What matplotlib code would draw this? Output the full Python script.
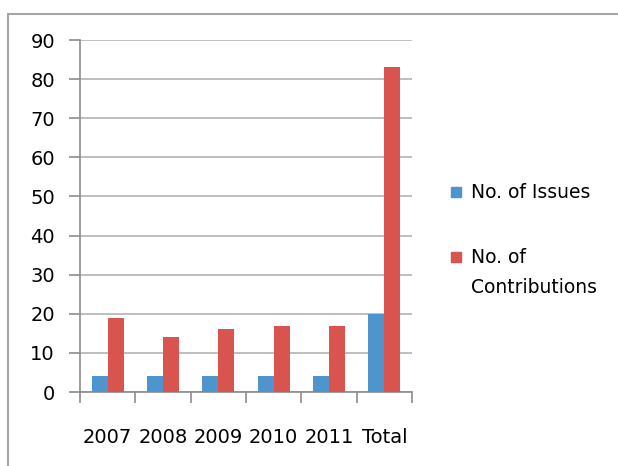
import numpy as np
import matplotlib
matplotlib.use('Agg')
import matplotlib.pyplot as plt
from matplotlib.lines import Line2D
from matplotlib.patches import Rectangle

plt.rcParams['font.family'] = ['DejaVu Sans']

years = ['2007', '2008', '2009', '2010', '2011', 'Total']
issues = [4, 4, 4, 4, 4, 20]
contributions = [19, 14, 16, 17, 17, 83]

blue = '#4F94CD'
red = '#D9534F'
grid_col = '#B3B3B3'
axis_col = '#8C8C8C'

W, H = 618, 466
fig = plt.figure(figsize=(W / 100, H / 100), dpi=100)
ax = fig.add_axes([80 / W, 74 / H, 332 / W, 352 / H])

x = np.arange(len(years))
w = 0.29
ax.bar(x - w / 2, issues, w, color=blue, zorder=3)
ax.bar(x + w / 2, contributions, w, color=red, zorder=3)

ax.set_xlim(-0.5, len(years) - 0.5)
ax.set_ylim(0, 90)
ax.set_yticks(range(0, 91, 10))
ax.yaxis.grid(True, color=grid_col, linewidth=1.2, zorder=0)

for side in ['top', 'right']:
    ax.spines[side].set_visible(False)
for side in ['left', 'bottom']:
    ax.spines[side].set_color(axis_col)
    ax.spines[side].set_linewidth(1.2)

ax.tick_params(axis='y', length=8, width=1.2, color=axis_col, pad=10, labelsize=14)

# category labels centred, tick marks on the boundaries
ax.set_xticks(x)
ax.set_xticklabels(years, fontsize=14)
ax.tick_params(axis='x', which='major', length=0, pad=26)
ax.set_xticks(np.arange(-0.5, len(years), 1), minor=True)
ax.tick_params(axis='x', which='minor', length=8, width=1.2, color=axis_col)

# legend drawn by hand: square aligned with the first text line
legend_rows = [(blue, ['No. of Issues'], 198), (red, ['No. of', 'Contributions'], 263)]
for col, lines, base in legend_rows:
    fig.add_artist(Rectangle((451 / W, 1 - (base - 1) / H), 10 / W, 10 / H,
                             color=col, transform=fig.transFigure))
    for i, line in enumerate(lines):
        fig.text(471 / W, 1 - (base + 30 * i) / H, line, fontsize=13.5,
                 va='baseline', ha='left')

# outer chart frame
fig.add_artist(Line2D([8 / W, 8 / W], [0, 1 - 14 / H], color='#A6A6A6', linewidth=1.5))
fig.add_artist(Line2D([8 / W, 1], [1 - 14 / H, 1 - 14 / H], color='#A6A6A6', linewidth=1.5))

fig.savefig('out.png', dpi=100)
